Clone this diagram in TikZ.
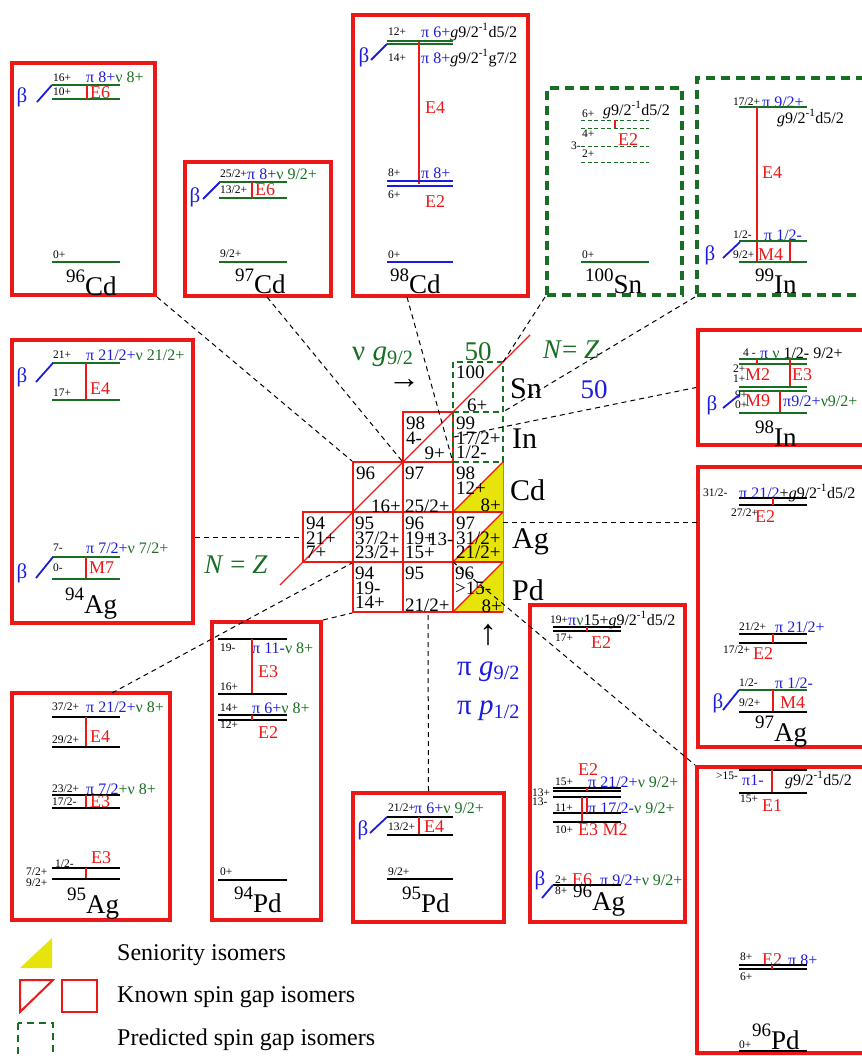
\documentclass[tikz,border=0pt]{standalone}
\usepackage{fontspec}
\setmainfont{Liberation Serif}
\usepackage{xcolor}
\usetikzlibrary{fit}
\definecolor{pred}{RGB}{236,24,24}
\definecolor{pgreen}{RGB}{24,110,34}
\definecolor{pblue}{RGB}{28,28,222}
\definecolor{pyellow}{RGB}{230,228,10}
\newcommand\fs[1]{\fontsize{#1}{#1}\selectfont}
\newcommand\iso[2]{{\fs{19}\raisebox{13pt}{#1}}#2}
\newcommand\gd{\textit{g}9/2\textsuperscript{-1}d5/2}

\begin{document}
\begin{tikzpicture}[x=1pt, y=-1pt,
  box/.style={draw=pred, line width=4pt, inner sep=0pt},
  pbox/.style={draw=pgreen, line width=4pt, inner sep=0pt, dash pattern=on 9pt off 6pt},
  cell/.style={draw=pred, line width=2pt, inner sep=0pt},
  lg/.style={draw=pgreen, line width=1.6pt},
  lb/.style={draw=pblue, line width=1.6pt},
  lk/.style={draw=black, line width=1.6pt},
  ld/.style={draw=pgreen, line width=0.9pt, dash pattern=on 4pt off 2.5pt},
  gam/.style={draw=pred, line width=1.3pt},
  bet/.style={draw=pblue, line width=1.8pt},
  nz/.style={draw=pred, line width=1.2pt},
  link/.style={draw=black, line width=1pt, dash pattern=on 5pt off 4pt},
  sp/.style={inner sep=0pt, anchor=west, font=\fs{11.5}},
  cf/.style={inner sep=0pt, anchor=west, font=\fs{16}},
  tr/.style={inner sep=0pt, anchor=west, text=pred, font=\fs{18}},
  bt/.style={inner sep=0pt, text=pblue, font=\fs{21}},
  nuc/.style={inner sep=0pt, anchor=base west, font=\fs{27}},
  cn/.style={inner sep=0pt, anchor=north west, align=left, font=\fontsize{19}{14.5}\selectfont},
  cs/.style={inner sep=0pt, font=\fs{19}},
  el/.style={inner sep=0pt, anchor=base west, font=\fs{30}},
  big/.style={inner sep=0pt, font=\fs{27}},
  leg/.style={inner sep=0pt, anchor=west, font=\fs{24}},
]
\useasboundingbox (0,0) rectangle (861,1056);

% level-scheme boxes
\node[box, fit={(12,63) (155,295)}] (bCd96) {};
\node[box, fit={(185,162) (331,296)}] (bCd97) {};
\node[box, fit={(353,15) (528,296)}] (bCd98) {};
\node[pbox, fit={(547,88) (682,295)}] (bSn100) {};
\node[pbox, fit={(697,78) (875,295)}] (bIn99) {};
\node[box, fit={(698,330) (875,445)}] (bIn98) {};
\node[box, fit={(698,467) (875,747)}] (bAg97) {};
\node[box, fit={(697,767) (875,1053)}] (bPd96) {};
\node[box, fit={(12,340) (193,623)}] (bAg94) {};
\node[box, fit={(12,693) (170,920)}] (bAg95) {};
\node[box, fit={(212,622) (321,920)}] (bPd94) {};
\node[box, fit={(353,793) (504,922)}] (bPd95) {};
\node[box, fit={(530,605) (685,922)}] (bAg96) {};

% chart of nuclides
\fill[pyellow] (453,512) -- (503,512) -- (503,462) -- cycle;
\fill[pyellow] (453,562) -- (503,562) -- (503,512) -- cycle;
\fill[pyellow] (453,612) -- (503,612) -- (503,562) -- cycle;
\node[cell, fit={(303,512) (353,562)}] (cAg94) {};
\node[cell, fit={(353,512) (403,562)}] (cAg95) {};
\node[cell, fit={(403,512) (453,562)}] (cAg96) {};
\node[cell, fit={(353,462) (403,512)}] (cCd96) {};
\node[cell, fit={(403,462) (453,512)}] (cCd97) {};
\node[cell, fit={(403,412) (453,462)}] (cIn98) {};
\node[cell, fit={(353,562) (403,612)}] (cPd94) {};
\node[cell, fit={(403,562) (453,612)}] (cPd95) {};
\node[inner sep=0pt, fit={(453,462) (503,512)}] (cCd98) {};
\node[inner sep=0pt, fit={(453,512) (503,562)}] (cAg97) {};
\node[inner sep=0pt, fit={(453,562) (503,612)}] (cPd96) {};
\node[inner sep=0pt, fit={(453,412) (503,462)}] (cIn99) {};
\node[inner sep=0pt, fit={(453,362) (503,412)}] (cSn100) {};
\draw[cell] (453,512) -- (503,512) (453,562) -- (503,562) (453,612) -- (503,612);
\draw[yellow!55!black, line width=0.8pt] (503,462) -- (503,612);
\draw[nz] (453,512) -- (503,462) (453,562) -- (503,512) (453,612) -- (503,562);
\draw[pgreen, line width=2pt, dash pattern=on 6pt off 4pt] (453,362) rectangle (503,462) (453,412) -- (503,412);
\draw[nz] (280,585) -- (530,335);

% cell labels
\node[cn] (xAg94) at (306,517) {94\\21+\\7+};
\node[cn] (xAg95) at (355,517) {95\\37/2+\\23/2+};
\node[cn] (xAg96) at (405,517) {96\\19+\\15+};
\node[cs, anchor=west] (yAg96) at (428,539) {13-};
\node[cn] (xAg97) at (456,517) {97\\31/2+\\21/2+};
\node[cn] (xCd96) at (356,467) {96};
\node[cs, anchor=east] (yCd96) at (401,506) {16+};
\node[cn] (xCd97) at (405,467) {97};
\node[cs, anchor=west] (yCd97) at (405,506) {25/2+};
\node[cn] (xCd98) at (456,467) {98\\12+};
\node[cs, anchor=east] (yCd98) at (501,505) {8+};
\node[cn] (xIn98) at (406,417) {98\\4-};
\node[cs, anchor=east] (yIn98) at (445,453) {9+};
\node[cn] (xIn99) at (456,417) {99\\17/2+\\1/2-};
\node[cn] (xSn100) at (456,366) {100};
\node[cs, anchor=west] (ySn100) at (467,405) {6+};
\node[cn] (xPd94) at (355,567) {94\\19-\\14+};
\node[cn] (xPd95) at (405,567) {95};
\node[cs, anchor=west] (yPd95) at (405,605) {21/2+};
\node[cn] (xPd96) at (455,567) {96\\>15-};
\node[cs, anchor=east] (yPd96) at (502,606) {8+};

% element names and shell labels
\node[el] (eSn) at (510,398) {Sn};
\node[el] (eIn) at (512,448) {In};
\node[el] (eCd) at (510,500) {Cd};
\node[el] (eAg) at (512,548) {Ag};
\node[el] (ePd) at (512,600) {Pd};
\node[big, text=pgreen, anchor=base west, font=\fs{29}] (nuG) at (352,360) {ν \textit{g}\textsubscript{9/2}};
\node[big, font=\fs{32}] (arN) at (404,384) {→};
\node[big, text=pgreen] (fifN) at (478,352) {50};
\node[big, text=pblue] (fifZ) at (594,390) {50};
\node[big, text=pgreen] (nzR) at (571,350) {\textit{N}= \textit{Z}};
\node[big, text=pgreen] (nzL) at (236,565) {\textit{N} = \textit{Z}};
\node[big, font=\fs{36}] (arZ) at (488,635) {↑};
\node[big, text=pblue, anchor=base west, font=\fs{29}] (piG) at (457,675) {π \textit{g}\textsubscript{9/2}};
\node[big, text=pblue, anchor=base west, font=\fs{29}] (piP) at (457,714) {π \textit{p}\textsubscript{1/2}};

% links between boxes and cells
\coordinate (aCd97) at (267,297);
\coordinate (aCd98) at (407,297);
\coordinate (aAg95) at (112,693);
\coordinate (aAg97) at (698,522);
\draw[link] (bCd96.south east) -- (cCd96.north west);
\draw[link] (aCd97) -- (cCd97.north west);
\draw[link] (aCd98) -- (cCd98.north west);
\draw[link] (bSn100.south west) -- (cSn100.north east);
\draw[link] (bIn99.south west) -- (cIn99.north east);
\draw[link] (cIn98.east) -- (bIn98.west);
\draw[link] (cAg97.east |- aAg97) -- (aAg97);
\draw[link] (bAg94.east |- cAg94.west) -- (cAg94.west);
\draw[link] (aAg95) -- (cAg95.south west);
\draw[link] (bPd94.north east) -- (cPd94.south west);
\draw[link] (bPd95.north) -- (cPd95.south);
\draw[link] (cPd96.north west) -- (bPd96.north west);

% 96Cd
\node[bt] (beCd96) at (22,97) {β};
\draw[bet] (37,102) -- (52,85);
\draw[lg] (52,85) -- (120,85);
\draw[lg] (52,99) -- (120,99);
\draw[gam] (87,85) -- (87,99);
\node[sp] (sCd96a) at (53,78) {16+};
\node[sp] (sCd96b) at (53,92) {10+};
\node[cf] (kCd96) at (86,77) {\textcolor{pblue}{π 8+}\textcolor{pgreen}{ ν 8+}};
\node[tr] (tCd96) at (90,93) {E6};
\draw[lg] (52,262) -- (120,262);
\node[sp] (sCd96c) at (53,255) {0+};
\node[nuc] (nCd96) at (66,295) {\iso{96}{Cd}};

% 97Cd
\node[bt] (beCd97) at (195,197) {β};
\draw[bet] (203,199) -- (220,182);
\draw[lg] (219,182) -- (287,182);
\draw[lg] (219,198) -- (287,198);
\draw[gam] (252,182) -- (252,198);
\node[sp] (sCd97a) at (220,174) {25/2+};
\node[sp] (sCd97b) at (220,190) {13/2+};
\node[cf] (kCd97) at (247,174) {\textcolor{pblue}{π 8+}\textcolor{pgreen}{ ν 9/2+}};
\node[tr] (tCd97) at (255,190) {E6};
\draw[lg] (219,262) -- (287,262);
\node[sp] (sCd97c) at (220,254) {9/2+};
\node[nuc] (nCd97) at (235,294) {\iso{97}{Cd}};

% 98Cd
\node[sp] (sCd98a) at (388,32) {12+};
\node[cf] (kCd98a) at (421,32) {\textcolor{pblue}{π 6+}\gd};
\draw[lg] (387,41) -- (453,41);
\draw[lg] (387,44) -- (453,44);
\node[bt] (beCd98) at (364,57) {β};
\draw[bet] (371,60) -- (387,44);
\node[sp] (sCd98b) at (388,58) {14+};
\node[cf] (kCd98b) at (421,58) {\textcolor{pblue}{π 8+}\textit{g}9/2\textsuperscript{-1}g7/2};
\draw[gam] (419,42) -- (419,184);
\node[tr] (tCd98a) at (425,108) {E4};
\draw[lb] (387,181) -- (453,181);
\draw[lb] (387,186) -- (453,186);
\node[sp] (sCd98c) at (388,173) {8+};
\node[cf] (kCd98c) at (421,173) {\textcolor{pblue}{π 8+}};
\node[sp] (sCd98d) at (388,195) {6+};
\node[tr] (tCd98b) at (425,202) {E2};
\draw[lb] (387,262) -- (453,262);
\node[sp] (sCd98e) at (388,255) {0+};
\node[nuc] (nCd98) at (390,294) {\iso{98}{Cd}};

% 100Sn
\node[sp] (sSn100a) at (582,114) {6+};
\node[cf] (kSn100) at (603,110) {\gd};
\draw[ld] (581,120) -- (649,120);
\draw[ld] (581,128) -- (649,128);
\draw[ld] (581,146) -- (649,146);
\draw[ld] (581,162) -- (649,162);
\draw[gam] (615,120) -- (615,128);
\node[sp] (sSn100b) at (582,134) {4+};
\node[sp] (sSn100c) at (571,146) {3-};
\node[sp] (sSn100d) at (582,154) {2+};
\node[tr] (tSn100) at (618,140) {E2};
\draw[lg] (581,262) -- (649,262);
\node[sp] (sSn100e) at (582,255) {0+};
\node[nuc] (nSn100) at (585,294) {\iso{100}{Sn}};

% 99In
\node[sp] (sIn99a) at (733,102) {17/2+};
\node[cf] (kIn99a) at (762,102) {\textcolor{pblue}{π 9/2+}};
\draw[lg] (739,107) -- (807,107);
\node[cf] (kIn99b) at (777,118) {\gd};
\draw[gam] (757,107) -- (757,262);
\node[tr] (tIn99a) at (762,173) {E4};
\node[sp] (sIn99b) at (733,235) {1/2-};
\node[cf] (kIn99c) at (764,235) {\textcolor{pblue}{π 1/2-}};
\draw[lg] (739,241) -- (807,241);
\node[bt] (beIn99) at (710,255) {β};
\draw[bet] (723,258) -- (740,242);
\node[sp] (sIn99c) at (733,255) {9/2+};
\draw[gam] (790,241) -- (790,262);
\node[tr] (tIn99b) at (758,255) {M4};
\draw[lg] (739,262) -- (807,262);
\node[nuc] (nIn99) at (755,294) {\iso{99}{In}};

% 98In
\node[sp] (sIn98a) at (743,353) {4 -};
\node[cf] (kIn98a) at (760,353) {\textcolor{pblue}{π }\textcolor{pgreen}{ν }1/2- 9/2+};
\draw[lg] (739,359) -- (807,359);
\draw[lg] (739,364) -- (807,364);
\draw[gam] (757,359) -- (757,364);
\draw[gam] (790,359) -- (790,387);
\node[sp] (sIn98b) at (733,369) {2+};
\node[sp] (sIn98c) at (733,379) {1+};
\node[tr] (tIn98a) at (745,375) {M2};
\node[tr] (tIn98b) at (792,375) {E3};
\draw[lg] (739,387) -- (807,387);
\draw[lg] (739,391) -- (807,391);
\node[sp] (sIn98d) at (735,395) {9+};
\node[sp] (sIn98e) at (735,405) {0+};
\node[tr] (tIn98c) at (745,401) {M9};
\draw[gam] (780,391) -- (780,413);
\node[cf] (kIn98b) at (783,401) {\textcolor{pblue}{π9/2+}\textcolor{pgreen}{ν9/2+}};
\draw[lg] (739,413) -- (807,413);
\node[bt] (beIn98) at (712,405) {β};
\draw[bet] (723,408) -- (739,395);
\node[nuc] (nIn98) at (755,446) {\iso{98}{In}};

% 97Ag
\node[sp] (sAg97a) at (703,493) {31/2-};
\node[cf] (kAg97a) at (739,493) {\textcolor{pblue}{π 21/2}+\gd};
\draw[lk] (739,498) -- (807,498);
\draw[lk] (739,505) -- (807,505);
\draw[gam] (773,498) -- (773,505);
\node[sp] (sAg97b) at (731,513) {27/2+};
\node[tr] (tAg97a) at (755,517) {E2};
\node[sp] (sAg97c) at (739,627) {21/2+};
\node[cf] (kAg97b) at (775,627) {\textcolor{pblue}{π 21/2+}};
\draw[lk] (739,634) -- (807,634);
\draw[lk] (739,643) -- (807,643);
\draw[gam] (773,634) -- (773,643);
\node[sp] (sAg97d) at (723,650) {17/2+};
\node[tr] (tAg97b) at (753,654) {E2};
\node[sp] (sAg97e) at (739,683) {1/2-};
\node[cf] (kAg97c) at (775,683) {\textcolor{pblue}{π 1/2-}};
\draw[lg] (739,690) -- (807,690);
\node[bt] (beAg97) at (718,703) {β};
\draw[bet] (723,710) -- (739,690);
\node[sp] (sAg97f) at (739,703) {9/2+};
\draw[gam] (773,690) -- (773,712);
\node[tr] (tAg97c) at (780,703) {M4};
\draw[lk] (739,712) -- (807,712);
\node[nuc] (nAg97) at (755,741) {\iso{97}{Ag}};

% 96Pd
\draw[lk] (739,770) -- (807,770);
\node[sp] (sPd96a) at (716,776) {>15-};
\node[cf] (kPd96a) at (742,780) {\textcolor{pblue}{π1-}};
\node[cf] (kPd96b) at (785,780) {\gd};
\draw[gam] (772,770) -- (772,793);
\draw[lk] (739,793) -- (807,793);
\node[sp] (sPd96b) at (740,799) {15+};
\node[tr] (tPd96a) at (762,806) {E1};
\node[sp] (sPd96c) at (740,957) {8+};
\node[tr] (tPd96b) at (762,960) {E2};
\node[cf] (kPd96c) at (788,960) {\textcolor{pblue}{π 8+}};
\draw[lk] (739,965) -- (807,965);
\draw[lk] (739,969) -- (807,969);
\draw[gam] (772,965) -- (772,969);
\node[sp] (sPd96d) at (740,977) {6+};
\node[sp] (sPd96e) at (739,1045) {0+};
\draw[lk] (739,1051) -- (807,1051);
\node[nuc] (nPd96) at (752,1049) {\iso{96}{Pd}};

% 94Ag
\node[sp] (sAg94a) at (53,355) {21+};
\node[cf] (kAg94a) at (86,355) {\textcolor{pblue}{π 21/2+}\textcolor{pgreen}{ν 21/2+}};
\draw[lg] (52,363) -- (120,363);
\node[bt] (beAg94a) at (22,377) {β};
\draw[bet] (36,382) -- (53,363);
\draw[gam] (86,363) -- (86,400);
\node[tr] (tAg94a) at (90,389) {E4};
\node[sp] (sAg94b) at (53,393) {17+};
\draw[lg] (52,400) -- (120,400);
\node[sp] (sAg94c) at (53,548) {7-};
\node[cf] (kAg94b) at (86,548) {\textcolor{pblue}{π 7/2+}\textcolor{pgreen}{ν 7/2+}};
\draw[lg] (52,557) -- (120,557);
\node[bt] (beAg94b) at (22,573) {β};
\draw[bet] (36,578) -- (53,557);
\node[sp] (sAg94d) at (53,568) {0-};
\draw[gam] (86,557) -- (86,579);
\node[tr] (tAg94b) at (89,568) {M7};
\draw[lg] (52,579) -- (120,579);
\node[nuc] (nAg94) at (65,613) {\iso{94}{Ag}};

% 95Ag
\node[sp] (sAg95a) at (52,707) {37/2+};
\node[cf] (kAg95a) at (86,707) {\textcolor{pblue}{π 21/2+}\textcolor{pgreen}{ν 8+}};
\draw[lk] (52,717) -- (120,717);
\draw[gam] (86,717) -- (86,747);
\node[tr] (tAg95a) at (90,737) {E4};
\node[sp] (sAg95b) at (52,740) {29/2+};
\draw[lk] (52,747) -- (120,747);
\node[sp] (sAg95c) at (52,789) {23/2+};
\node[cf] (kAg95b) at (86,789) {\textcolor{pblue}{π 7/2}\textcolor{pgreen}{+ν 8+}};
\draw[lk] (52,795) -- (120,795);
\node[sp] (sAg95d) at (52,802) {17/2-};
\draw[gam] (86,795) -- (86,808);
\node[tr] (tAg95b) at (90,802) {E3};
\draw[lk] (52,808) -- (120,808);
\node[tr] (tAg95c) at (91,858) {E3};
\node[sp] (sAg95e) at (55,864) {1/2-};
\draw[lk] (52,868) -- (120,868);
\node[sp] (sAg95f) at (26,872) {7/2+};
\draw[gam] (86,868) -- (86,879);
\node[sp] (sAg95g) at (26,883) {9/2+};
\draw[lk, line width=2.5pt] (52,879) -- (120,879);
\node[nuc] (nAg95) at (67,913) {\iso{95}{Ag}};

% 94Pd
\draw[lk] (218,639) -- (287,639);
\node[sp] (sPd94a) at (220,648) {19-};
\node[cf] (kPd94a) at (252,648) {\textcolor{pblue}{π 11-}\textcolor{pgreen}{ν 8+}};
\draw[gam] (252,639) -- (252,694);
\node[tr] (tPd94a) at (258,672) {E3};
\node[sp] (sPd94b) at (220,687) {16+};
\draw[lk] (218,694) -- (287,694);
\node[sp] (sPd94c) at (220,708) {14+};
\node[cf] (kPd94b) at (252,708) {\textcolor{pblue}{π 6+}\textcolor{pgreen}{ν 8+}};
\draw[lk] (218,715) -- (287,715);
\draw[lk] (218,720) -- (287,720);
\draw[gam] (252,715) -- (252,720);
\node[sp] (sPd94d) at (220,725) {12+};
\node[tr] (tPd94b) at (258,733) {E2};
\node[sp] (sPd94e) at (220,872) {0+};
\draw[lk] (218,880) -- (287,880);
\node[nuc] (nPd94) at (234,912) {\iso{94}{Pd}};

% 95Pd
\node[sp] (sPd95a) at (388,808) {21/2+};
\node[cf] (kPd95a) at (414,808) {\textcolor{pblue}{π 6+}\textcolor{pgreen}{ ν 9/2+}};
\draw[lk] (387,817) -- (453,817);
\node[bt] (bePd95) at (363,830) {β};
\draw[bet] (370,833) -- (387,817);
\node[sp] (sPd95b) at (388,827) {13/2+};
\draw[gam] (419,817) -- (419,835);
\node[tr] (tPd95a) at (424,827) {E4};
\draw[lk] (387,835) -- (453,835);
\node[sp] (sPd95c) at (388,872) {9/2+};
\draw[lk] (387,879) -- (453,879);
\node[nuc] (nPd95) at (402,912) {\iso{95}{Pd}};

% 96Ag
\node[sp] (sAg96a) at (550,620) {19+};
\node[cf] (kAg96a) at (568,620) {\textcolor{pblue}{π}\textcolor{pgreen}{ν}15+\gd};
\draw[lk] (553,627) -- (621,627);
\draw[lk] (553,631) -- (621,631);
\draw[gam] (587,627) -- (587,631);
\node[sp] (sAg96b) at (555,638) {17+};
\node[tr] (tAg96a) at (591,643) {E2};
\node[tr] (tAg96b) at (578,770) {E2};
\node[sp] (sAg96c) at (555,782) {15+};
\node[cf] (kAg96b) at (588,782) {\textcolor{pblue}{π 21/2+}\textcolor{pgreen}{ν 9/2+}};
\draw[lk] (553,788) -- (621,788);
\draw[lk] (553,791) -- (621,791);
\draw[gam] (587,788) -- (587,791);
\node[sp] (sAg96d) at (532,793) {13+};
\node[sp] (sAg96e) at (532,802) {13-};
\draw[lk] (553,797) -- (621,797);
\node[sp] (sAg96f) at (555,808) {11+};
\node[cf] (kAg96c) at (588,808) {\textcolor{pblue}{π 17/2-}\textcolor{pgreen}{ν 9/2+}};
\draw[lk] (553,813) -- (621,813);
\draw[gam] (582,797) -- (582,822);
\draw[gam] (587,797) -- (587,813);
\draw[lk] (553,822) -- (621,822);
\node[sp] (sAg96g) at (555,830) {10+};
\node[tr] (tAg96c) at (578,830) {E3 M2};
\node[sp] (sAg96h) at (555,880) {2+};
\node[tr] (tAg96d) at (572,880) {E6};
\node[cf] (kAg96d) at (600,880) {\textcolor{pblue}{π 9/2+}\textcolor{pgreen}{ν 9/2+}};
\draw[lk] (553,885) -- (621,885);
\node[sp] (sAg96i) at (555,891) {8+};
\node[bt] (beAg96) at (540,880) {β};
\draw[bet] (542,898) -- (553,885);
\node[nuc] (nAg96) at (573,910) {\iso{96}{Ag}};

% legend
\fill[pyellow] (20,968) -- (52,968) -- (52,938) -- cycle;
\draw[pred, line width=2pt] (20,980) -- (53,980) -- (20,1012) -- cycle;
\draw[pred, line width=2pt] (62,980) rectangle (97,1012);
\draw[pgreen, line width=2.5pt, dash pattern=on 7pt off 5pt] (18,1023) rectangle (53,1062);
\node[leg] (lgSen) at (117,955) {Seniority isomers};
\node[leg] (lgKno) at (117,997) {Known spin gap isomers};
\node[leg] (lgPre) at (117,1040) {Predicted spin gap isomers};
\end{tikzpicture}
\end{document}
